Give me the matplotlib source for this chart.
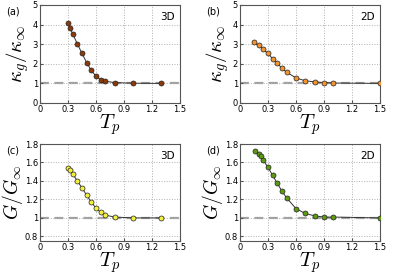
import matplotlib
matplotlib.use("Agg")
import matplotlib.pyplot as plt

plt.rcParams['mathtext.fontset'] = 'cm'

# (a) 3D kappa
x_a = [0.3, 0.32, 0.35, 0.4, 0.45, 0.5, 0.55, 0.6, 0.65, 0.7, 0.8, 1.0, 1.3]
y_a = [4.06, 3.84, 3.53, 3.02, 2.53, 2.06, 1.66, 1.37, 1.19, 1.11, 1.04, 1.01, 1.0]
# (b) 2D kappa
x_b = [0.15, 0.2, 0.25, 0.3, 0.35, 0.4, 0.45, 0.5, 0.6, 0.7, 0.8, 0.9, 1.0, 1.5]
y_b = [3.09, 2.94, 2.73, 2.53, 2.25, 2.03, 1.77, 1.57, 1.28, 1.13, 1.08, 1.04, 1.02, 1.0]
# (c) 3D G
x_c = [0.3, 0.32, 0.35, 0.4, 0.45, 0.5, 0.55, 0.6, 0.65, 0.7, 0.8, 1.0, 1.3]
y_c = [1.545, 1.517, 1.476, 1.40, 1.325, 1.245, 1.17, 1.106, 1.059, 1.03, 1.009, 1.0, 1.0]
# (d) 2D G
x_d = [0.16, 0.2, 0.22, 0.25, 0.3, 0.35, 0.4, 0.45, 0.5, 0.6, 0.7, 0.8, 0.9, 1.0, 1.5]
y_d = [1.725, 1.69, 1.665, 1.625, 1.547, 1.46, 1.374, 1.288, 1.216, 1.10, 1.048, 1.022, 1.009, 1.009, 1.0]

xticks = [0, 0.3, 0.6, 0.9, 1.2, 1.5]
xticklabels = ['0', '0.3', '0.6', '0.9', '1.2', '1.5']
kticks = [0, 1, 2, 3, 4, 5]
gticks = [0.8, 1.0, 1.2, 1.4, 1.6, 1.8]
gticklabels = ['0.8', '1', '1.2', '1.4', '1.6', '1.8']

fig = plt.figure(figsize=(3.99, 2.78), dpi=100)
W, H = 399, 278

def make_ax(l, t, r, b):
    return fig.add_axes([l / W, 1 - b / H, (r - l) / W, (b - t) / H])

panels = [
    (make_ax(40, 5, 180, 103), x_a, y_a, '#8c3a08', '(a)', '3D', 'k'),
    (make_ax(240, 5, 380, 103), x_b, y_b, '#f29430', '(b)', '2D', 'k'),
    (make_ax(40, 144, 180, 241), x_c, y_c, '#f2f03c', '(c)', '3D', 'g'),
    (make_ax(240, 144, 380, 241), x_d, y_d, '#5c9a12', '(d)', '2D', 'g'),
]

for ax, xs, ys, col, lab, dim, kind in panels:
    ax.axhline(1.0, color='#a0a0a0', lw=1.6, ls=(0, (4, 2.5)), zorder=1)
    ax.plot(xs, ys, '-', color='#333333', lw=0.7, zorder=2)
    ax.plot(xs, ys, 'o', ms=3.6, mfc=col, mec='#222222', mew=0.5, zorder=3)
    ax.set_xlim(0, 1.5)
    ax.set_xticks(xticks)
    ax.set_xticklabels(xticklabels)
    if kind == 'k':
        ax.set_ylim(0, 5)
        ax.set_yticks(kticks)
        ax.set_ylabel(r'$\kappa_g/\kappa_\infty$', fontsize=15, labelpad=1)
    else:
        ax.set_ylim(0.75, 1.8)
        ax.set_yticks(gticks)
        ax.set_yticklabels(gticklabels)
        ax.set_ylabel(r'$G/G_\infty$', fontsize=14, labelpad=0)
    ax.set_xlabel(r'$T_p$', fontsize=15, labelpad=-1)
    ax.grid(True, ls=':', color='#b0b0b0', lw=0.7)
    ax.tick_params(direction='in', length=2, labelsize=6, pad=1.5, color='#555555')
    for s in ax.spines.values():
        s.set_color('#555555')
        s.set_linewidth(0.8)
    ax.text(-0.24, 0.93, lab, transform=ax.transAxes, fontsize=7, ha='left', va='center')
    ax.text(0.96, 0.88, dim, transform=ax.transAxes, fontsize=7.5, ha='right', va='center')

plt.savefig('out.png', dpi=100)
